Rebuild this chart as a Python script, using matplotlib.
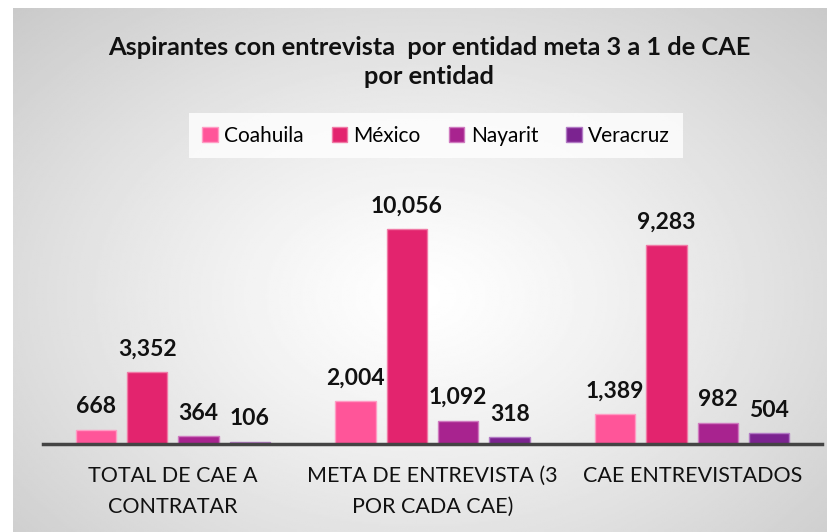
import numpy as np
import matplotlib
matplotlib.use("Agg")
import matplotlib.pyplot as plt

# data
categories = ["TOTAL DE CAE A\nCONTRATAR", "META DE ENTREVISTA (3\nPOR CADA CAE)", "CAE ENTREVISTADOS"]
entidades = ["Coahuila", "México", "Nayarit", "Veracruz"]
coahuila = [668, 2004, 1389]
mexico = [3352, 10056, 9283]
nayarit = [364, 1092, 982]
veracruz = [106, 318, 504]
series = [coahuila, mexico, nayarit, veracruz]
colors = ["#FF5599", "#E3246E", "#A8238F", "#7B2390"]
edges = ["#FF9CC4", "#F07AA6", "#CF7ABF", "#B27AC4"]

plt.rcParams["font.family"] = ["Lato", "DejaVu Sans"]

W, H = 828, 532
fig = plt.figure(figsize=(W / 100, H / 100), dpi=100)

# radial gradient background panel
bg = fig.add_axes([13 / W, 0, 1 - 13 / W, 1 - 8 / H])
yy, xx = np.mgrid[0:1:300j, 0:1:400j]
r = np.sqrt(((xx - 0.5) / 0.5) ** 2 + ((yy - 0.45) / 0.55) ** 2) / 1.42
r = np.clip(r, 0, 1)
shade = 1.0 - 0.21 * r ** 1.2
bg.imshow(shade, cmap="gray", vmin=0, vmax=1, aspect="auto", origin="lower",
          extent=[0, 1, 0, 1])
bg.set_axis_off()

ax = fig.add_axes([43 / W, (H - 444) / H, (822 - 43) / W, (444 - 170) / H])
ax.patch.set_alpha(0)
x = np.arange(len(categories))
bw = 0.155
step = 0.198
for i, (vals, c, ec, name) in enumerate(zip(series, colors, edges, entidades)):
    xs = x + (i - 1.5) * step
    ax.bar(xs, vals, width=bw, color=c, edgecolor=ec, linewidth=1, label=name, zorder=2)
    for xb, v in zip(xs, vals):
        ax.annotate(f"{v:,}", (xb, v), xytext=(0, 9), textcoords="offset points",
                    ha="center", va="bottom", fontsize=16.5, fontweight="bold", color="#111111")

ax.set_xlim(-0.5, 2.5)
ax.set_ylim(0, 12800)
ax.set_yticks([])
for s in ["top", "left", "right"]:
    ax.spines[s].set_visible(False)
ax.spines["bottom"].set_color("#444444")
ax.spines["bottom"].set_linewidth(2.5)
ax.spines["bottom"].set_zorder(3)
ax.set_xticks(x)
ax.set_xticklabels(categories, fontsize=15.5, color="#111111", linespacing=1.65)
ax.tick_params(axis="x", length=0, pad=16)

fig.text(0.518, 1 - 62 / H, "Aspirantes con entrevista  por entidad meta 3 a 1 de CAE\npor entidad",
         ha="center", va="center", fontsize=18.3, fontweight="bold", color="#111111",
         linespacing=1.35)

leg = fig.legend(loc="center", bbox_to_anchor=(436 / W, 1 - 135.5 / H), ncol=4, frameon=True,
                 handlelength=0.75, handleheight=0.75, handletextpad=0.3,
                 columnspacing=1.35, borderpad=0.6, prop={"size": 15})
leg.get_frame().set_facecolor("white")
leg.get_frame().set_edgecolor("none")
leg.get_frame().set_boxstyle("square", pad=0)

fig.savefig("out.png", dpi=100, facecolor="white")
